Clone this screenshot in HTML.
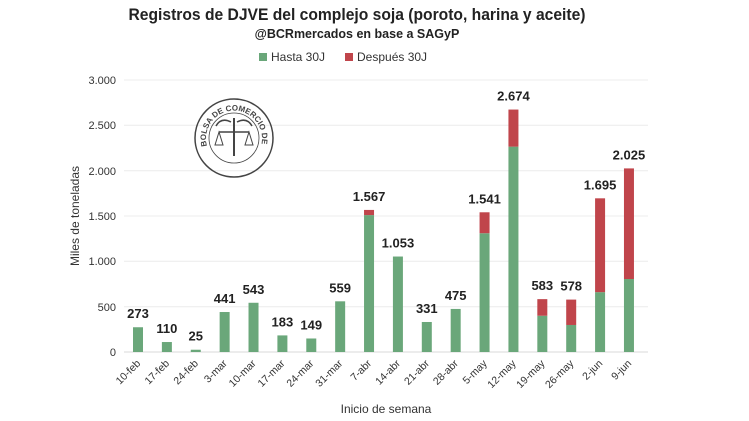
<!DOCTYPE html>
<html><head><meta charset="utf-8"><style>
html,body{margin:0;padding:0;background:#fff;}
svg{display:block;font-family:"Liberation Sans",sans-serif;}
</style></head><body>
<svg width="749" height="421" viewBox="0 0 749 421" xmlns="http://www.w3.org/2000/svg">
<rect width="749" height="421" fill="#fff"/>
<text x="357" y="20" text-anchor="middle" font-size="17" font-weight="bold" fill="#222" transform="translate(357 0) scale(0.92 1) translate(-357 0)">Registros de DJVE del complejo soja (poroto, harina y aceite)</text>
<text x="357" y="38" text-anchor="middle" font-size="12.5" font-weight="bold" fill="#222">@BCRmercados en base a SAGyP</text>
<rect x="259" y="53" width="8" height="8" fill="#6aa77a"/>
<text x="271" y="61" font-size="12" fill="#333">Hasta 30J</text>
<rect x="345" y="53" width="8" height="8" fill="#c0454b"/>
<text x="357" y="61" font-size="12" fill="#333">Después 30J</text>
<g stroke="#ececec" stroke-width="1">
<line x1="124" y1="80" x2="648" y2="80"/><line x1="124" y1="125.3" x2="648" y2="125.3"/>
<line x1="124" y1="170.7" x2="648" y2="170.7"/><line x1="124" y1="216" x2="648" y2="216"/>
<line x1="124" y1="261.3" x2="648" y2="261.3"/><line x1="124" y1="306.7" x2="648" y2="306.7"/>
</g>
<line x1="124" y1="352" x2="648" y2="352" stroke="#d8d8d8"/>
<g font-size="11" fill="#333" text-anchor="end">
<text x="116" y="84">3.000</text><text x="116" y="129">2.500</text><text x="116" y="175">2.000</text>
<text x="116" y="220">1.500</text><text x="116" y="265">1.000</text><text x="116" y="311">500</text><text x="116" y="356">0</text>
</g>
<text transform="translate(79 216) rotate(-90)" text-anchor="middle" font-size="12" fill="#333">Miles de toneladas</text>
<defs><path id="arc" d="M-27 8 A28 28 0 1 1 27 8"/></defs>
<g transform="translate(234 138)" fill="none" stroke="#444">
<circle r="39" stroke-width="1.5"/><circle r="25" stroke-width="0.8"/>
<line x1="0" y1="-20" x2="0" y2="18" stroke-width="2"/>
<line x1="-15" y1="-6" x2="15" y2="-6" stroke-width="1.5"/>
<path d="M-15 -6 L-19 7 L-11 7 Z M15 -6 L19 7 L11 7 Z" stroke-width="1"/>
<path d="M-3 -16 Q-13 -21 -18 -12 M3 -16 Q13 -21 18 -12" stroke-width="1.5"/>
<text font-size="8" font-weight="bold" fill="#444" stroke="none"><textPath href="#arc">BOLSA DE COMERCIO DE ROSARIO</textPath></text>
</g>
<g id="bars"></g>
<g font-size="13" font-weight="bold" fill="#222" text-anchor="middle" id="vals"></g>
<g font-size="10.5" fill="#333" text-anchor="end" id="xl"></g>
<text x="386" y="413" text-anchor="middle" font-size="12" fill="#333">Inicio de semana</text>
<script>
var d=[["10-feb",273,0],["17-feb",110,0],["24-feb",25,0],["3-mar",441,0],["10-mar",543,0],["17-mar",183,0],["24-mar",149,0],["31-mar",559,0],["7-abr",1510,57],["14-abr",1053,0],["21-abr",331,0],["28-abr",475,0],["5-may",1310,231],["12-may",2265,409],["19-may",400,183],["26-may",298,280],["2-jun",660,1035],["9-jun",805,1220]];
var ns="http://www.w3.org/2000/svg",k=272/3000,b=document.getElementById("bars"),v=document.getElementById("vals"),x=document.getElementById("xl");
function el(p,t,a,txt){var e=document.createElementNS(ns,t);for(var i in a)e.setAttribute(i,a[i]);if(txt)e.textContent=txt;p.appendChild(e);}
d.forEach(function(r,i){var cx=138+i*28.88,g=r[1]*k,rd=r[2]*k,tot=r[1]+r[2];
el(b,"rect",{x:cx-5,y:352-g,width:10,height:g,fill:"#6aa77a"});
if(rd)el(b,"rect",{x:cx-5,y:352-g-rd,width:10,height:rd,fill:"#c0454b"});
var s=tot>=1000?Math.floor(tot/1000)+"."+String(tot%1000).padStart(3,"0"):String(tot);
el(v,"text",{x:cx,y:352-tot*k-9},s);
el(x,"text",{x:cx+3,y:364,transform:"rotate(-45 "+(cx+3)+" 364)"},r[0]);});
</script>
</svg>
</body></html>
